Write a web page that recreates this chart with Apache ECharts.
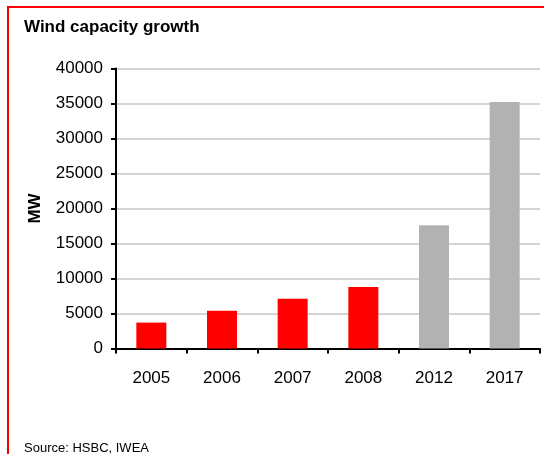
<!DOCTYPE html>
<html>
<head>
<meta charset="utf-8">
<script src="https://cdn.jsdelivr.net/npm/echarts@6/dist/echarts.min.js"></script>
<style>
html,body{margin:0;padding:0;background:#fff;}
#c{width:544px;height:454px;}
</style>
</head>
<body>
<div id="c"></div>
<script>
const categories = ['2005', '2006', '2007', '2008', '2012', '2017'];
const capacityMW = [3700, 5400, 7100, 8800, 17600, 35200];
const kind = ['actual', 'actual', 'actual', 'actual', 'forecast', 'forecast'];
const yTicks = [0, 5000, 10000, 15000, 20000, 25000, 30000, 35000, 40000];

const colorFor = { actual: '#ff0000', forecast: '#b2b2b2' };
const FONT = 'Liberation Sans, Arial, sans-serif';

const chart = echarts.init(document.getElementById('c'), null, { renderer: 'canvas' });
chart.setOption({
  animation: false,
  backgroundColor: '#ffffff',
  title: {
    text: 'Wind capacity growth',
    left: 19, top: 14,
    textStyle: { fontFamily: FONT, fontWeight: 'bold', fontSize: 17, color: '#000' }
  },
  graphic: [
    { type: 'polyline', shape: { points: [[8, 460], [8, 7], [550, 7]] },
      style: { stroke: '#ff0000', lineWidth: 2, fill: null }, silent: true },
    { type: 'text', left: 24, top: 442,
      style: { text: 'Source: HSBC, IWEA', fontFamily: FONT, fontSize: 13, fill: '#000' } }
  ],
  grid: { left: 116, right: 4, top: 68.5, bottom: 105.5, containLabel: false },
  xAxis: {
    type: 'category',
    data: categories,
    axisLine: { lineStyle: { color: '#000', width: 2 } },
    axisTick: { show: true, length: 5, alignWithLabel: false, lineStyle: { color: '#000', width: 2 } },
    axisLabel: { fontFamily: FONT, fontSize: 17, color: '#000', margin: 21 },
    splitLine: { show: false }
  },
  yAxis: {
    type: 'value',
    min: yTicks[0], max: yTicks[yTicks.length - 1], interval: yTicks[1] - yTicks[0],
    name: 'MW',
    nameLocation: 'middle',
    nameGap: 72,
    nameRotate: 90,
    nameTextStyle: { fontFamily: FONT, fontWeight: 'bold', fontSize: 17, color: '#000' },
    axisLine: { show: true, lineStyle: { color: '#000', width: 2 } },
    axisTick: { show: true, length: 5, lineStyle: { color: '#000', width: 2 } },
    axisLabel: { fontFamily: FONT, fontSize: 17, color: '#000', margin: 13, formatter: (v) => String(v) },
    splitLine: { show: true, lineStyle: { color: '#d4d4d4', width: 2 } }
  },
  series: [{
    type: 'bar',
    barWidth: 30,
    data: capacityMW.map((v, i) => ({ value: v, itemStyle: { color: colorFor[kind[i]] } }))
  }]
});
</script>
</body>
</html>
